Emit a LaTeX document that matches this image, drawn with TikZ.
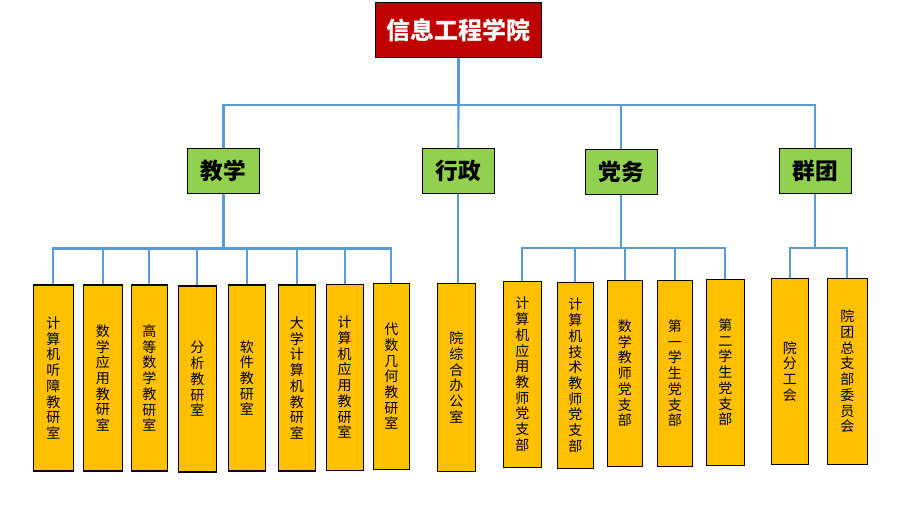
\documentclass[tikz,border=0pt]{standalone}
\usepackage{fontspec}
\setmainfont{Noto Sans CJK SC}
\definecolor{titlered}{HTML}{C00000}
\definecolor{unitgreen}{HTML}{92D050}
\definecolor{officeorange}{HTML}{FFC000}
\definecolor{linkblue}{HTML}{5B9BD5}
\tikzset{
	college/.style={draw=black, line width=0.8pt, fill=titlered, text=white, font=\fontsize{18}{20}\selectfont\bfseries, minimum width=124.8pt, minimum height=41.25pt, inner sep=0pt},
	branch/.style={draw=black, line width=0.8pt, fill=unitgreen, font=\fontsize{17}{19}\selectfont\bfseries, minimum width=54pt, minimum height=33.75pt, inner sep=0pt},
	office/.style={draw=black, line width=0.8pt, fill=officeorange, font=\fontsize{10.5}{11.8}\selectfont, align=center, minimum width=28pt, minimum height=139.5pt, inner sep=0pt},
	link/.style={line width=1.6pt, color=linkblue},
}

\begin{document}
\begin{tikzpicture}[x=0.75pt, y=-0.75pt]
		%%%%% START %%%%%
		\useasboundingbox (0, 0) rectangle (907, 507);
		
		\node[college] (xy) at (458.5, 30) {信息工程学院};
		
		\node[branch] (jx) at (223.5, 171) {教学};
		\node[branch] (xz) at (458.3, 171.3) {行政};
		\node[branch] (dw) at (621.3, 172.3) {党务};
		\node[branch] (qt) at (815.3, 170.8) {群团};
		
		\node[office, minimum width=30pt] (tz) at (53.3, 378) {计\\算\\机\\听\\障\\教\\研\\室};
		\node[office, minimum width=29.25pt] (sy) at (102.8, 378) {数\\学\\应\\用\\教\\研\\室};
		\node[office, minimum width=27pt] (gs) at (149.3, 378) {高\\等\\数\\学\\教\\研\\室};
		\node[office, minimum width=28.5pt] (fx) at (197.3, 379) {分\\析\\教\\研\\室};
		\node[office, minimum width=27.75pt] (rj) at (246.8, 378) {软\\件\\教\\研\\室};
		\node[office, minimum width=27.75pt] (dj) at (296.8, 378) {大\\学\\计\\算\\机\\教\\研\\室};
		\node[office, minimum width=27.75pt] (jy) at (344.7, 377.3) {计\\算\\机\\应\\用\\教\\研\\室};
		\node[office, minimum width=27pt] (ds) at (391.3, 376.3) {代\\数\\几\\何\\教\\研\\室};
		
		\node[office, minimum width=28.5pt, minimum height=141pt] (bg) at (456.3, 377.3) {院\\综\\合\\办\\公\\室};
		
		\node[office, minimum width=28.5pt] (yz) at (522.3, 374.3) {计\\算\\机\\应\\用\\教\\师\\党\\支\\部};
		\node[office, minimum width=27pt] (jz) at (575.3, 375.3) {计\\算\\机\\技\\术\\教\\师\\党\\支\\部};
		\node[office, minimum width=26.25pt] (sz) at (624.8, 373.3) {数\\学\\教\\师\\党\\支\\部};
		\node[office, minimum width=26.25pt] (xa) at (674.8, 373.3) {第\\一\\学\\生\\党\\支\\部};
		\node[office, minimum width=28.5pt] (xb) at (725.3, 372.3) {第\\二\\学\\生\\党\\支\\部};
		
		\node[office, minimum width=27.75pt] (gh) at (789.8, 371.3) {院\\分\\工\\会};
		\node[office, minimum width=30pt] (tw) at (847.3, 371.3) {院\\团\\总\\支\\部\\委\\员\\会};
		
		\coordinate (topbus) at (458.5, 105);
		\coordinate (jxbus) at (223.5, 248.5);
		\coordinate (dwbus) at (621.3, 247.7);
		\coordinate (qtbus) at (815.3, 247.7);
		
		\draw[link] (xy.south) -- (topbus);
		\draw[link] (jx.north) |- (topbus) -| (qt.north);
		\draw[link] (topbus) -- (xz.north);
		\draw[link] (dw.north) -- (dw.north |- topbus);
		
		\draw[link] (jx.south) -- (jxbus);
		\draw[link] (tz.north) |- (jxbus) -| (ds.north);
		\draw[link] (sy.north) -- (sy.north |- jxbus);
		\draw[link] (gs.north) -- (gs.north |- jxbus);
		\draw[link] (fx.north) -- (fx.north |- jxbus);
		\draw[link] (rj.north) -- (rj.north |- jxbus);
		\draw[link] (dj.north) -- (dj.north |- jxbus);
		\draw[link] (jy.north) -- (jy.north |- jxbus);
		
		\draw[link] (xz.south) -- (xz.south |- bg.north);
		
		\draw[link] (dw.south) -- (dwbus);
		\draw[link] (yz.north) |- (dwbus) -| (xb.north);
		\draw[link] (jz.north) -- (jz.north |- dwbus);
		\draw[link] (sz.north) -- (sz.north |- dwbus);
		\draw[link] (xa.north) -- (xa.north |- dwbus);
		
		\draw[link] (qt.south) -- (qtbus);
		\draw[link] (gh.north) |- (qtbus) -| (tw.north);
		
		%%%%% END %%%%%
	\end{tikzpicture}
\end{document}
